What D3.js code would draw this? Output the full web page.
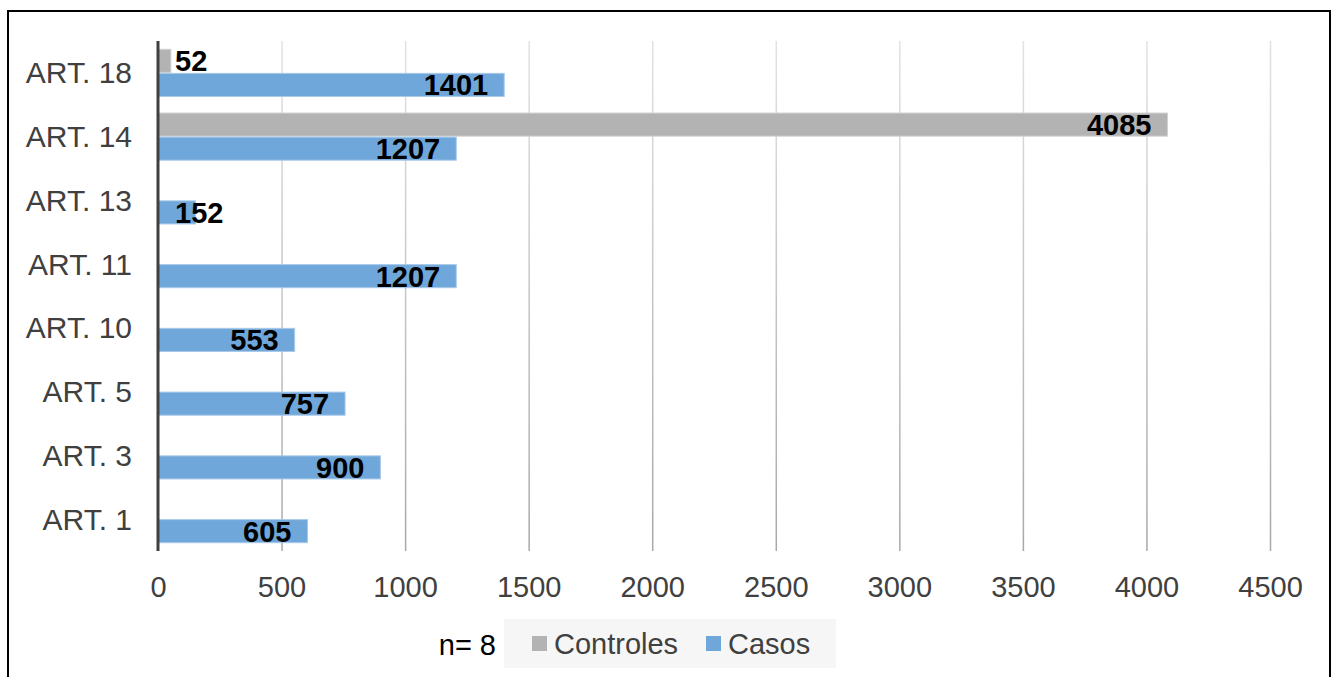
<!DOCTYPE html>
<html><head><meta charset="utf-8">
<script src="https://cdn.jsdelivr.net/npm/d3@7"></script>
<style>body{margin:0;background:#fff}svg{display:block;font-family:"Liberation Sans",Arial,sans-serif}</style>
</head><body><svg id="c" width="1333" height="677"></svg>
<script>
const categories = ["ART. 18","ART. 14","ART. 13","ART. 11","ART. 10","ART. 5","ART. 3","ART. 1"];
const controles = [52, 4085, null, null, null, null, null, null];
const casos = [1401, 1207, 152, 1207, 553, 757, 900, 605];
const xTicks = [0,500,1000,1500,2000,2500,3000,3500,4000,4500];
const seriesNames = ["Controles","Casos"];
const colors = {Controles:"#b3b3b3", Casos:"#70a7da"};
const note = "n= 8";

const svg = d3.select("#c");
svg.append("rect").attr("x",8).attr("y",11).attr("width",1322).attr("height",680)
  .attr("fill","#fff").attr("stroke","#000").attr("stroke-width",2);

const x = d3.scaleLinear().domain([0,4500]).range([158,1270]);
const y = d3.scaleBand().domain(categories).range([41,551]).paddingInner(0.26).paddingOuter(0.13);
const ys = d3.scaleBand().domain(seriesNames).range([0,y.bandwidth()]).paddingInner(0.04);

const defs = svg.append("defs");
const g = defs.append("linearGradient").attr("id","gg").attr("gradientUnits","userSpaceOnUse")
  .attr("x1",0).attr("y1",41).attr("x2",0).attr("y2",551);
g.append("stop").attr("offset","0").attr("stop-color","#e2e2e2");
g.append("stop").attr("offset","1").attr("stop-color","#a8a8a8");

// gridlines
svg.append("g").selectAll("line").data(xTicks.slice(1)).join("line")
  .attr("x1",d=>x(d)+0.5).attr("x2",d=>x(d)+0.5).attr("y1",41).attr("y2",551)
  .attr("stroke","url(#gg)").attr("stroke-width",1.5);

// bars
const data = [];
categories.forEach((c,i)=>{
  if(controles[i]!=null) data.push({c, s:"Controles", v:controles[i]});
  data.push({c, s:"Casos", v:casos[i]});
});
svg.append("g").selectAll("rect").data(data).join("rect")
  .attr("x",x(0)).attr("y",d=>y(d.c)+ys(d.s)).attr("width",d=>x(d.v)-x(0))
  .attr("height",ys.bandwidth()).attr("fill",d=>colors[d.s])
  .attr("stroke",d=>d.s==="Casos"?"#a9c9ea":"#d0d0d0").attr("stroke-width",1);

// axis line
svg.append("line").attr("x1",x(0)).attr("x2",x(0)).attr("y1",41).attr("y2",551)
  .attr("stroke","#404040").attr("stroke-width",3);

// value labels
const lbl = svg.append("g").selectAll("text").data(data).join("text")
  .attr("y",d=>y(d.c)+ys(d.s)+ys.bandwidth()/2+10.5)
  .attr("font-size",29).attr("font-weight","bold").attr("fill","#000")
  .attr("text-anchor","end").text(d=>d.v);
lbl.each(function(d){
  const w = this.getComputedTextLength();
  const xe = Math.max(x(d.v)-16, x(0)+17+w);
  d3.select(this).attr("x",xe);
});

// category labels
svg.append("g").selectAll("text").data(categories).join("text")
  .attr("x",132).attr("y",d=>y(d)+ y.bandwidth()/2)
  .attr("dy","0.35em").attr("text-anchor","end").attr("font-size",30).attr("fill","#404040")
  .text(d=>d);

// x axis tick labels
const xAxis = d3.axisBottom(x).tickValues(xTicks).tickSize(0).tickPadding(0).tickFormat(d3.format("d"));
const ax = svg.append("g").attr("transform","translate(0,551)").call(xAxis);
ax.select(".domain").remove();
ax.selectAll("text").attr("font-size",29).attr("fill","#404040").attr("y",46)
  .attr("font-family","Liberation Sans, Arial, sans-serif").attr("dy",0);

// legend
svg.append("rect").attr("x",504).attr("y",619).attr("width",332).attr("height",49).attr("fill","#f6f6f6");
const leg = [{n:"Controles",x:532},{n:"Casos",x:706}];
leg.forEach(l=>{
  svg.append("rect").attr("x",l.x).attr("y",636).attr("width",15).attr("height",15).attr("fill",colors[l.n]);
  svg.append("text").attr("x",l.x+22).attr("y",654).attr("font-size",29).attr("fill","#404040").text(l.n);
});
svg.append("text").attr("x",496).attr("y",655).attr("text-anchor","end").attr("font-size",29).attr("fill","#000").text(note);
</script></body></html>
